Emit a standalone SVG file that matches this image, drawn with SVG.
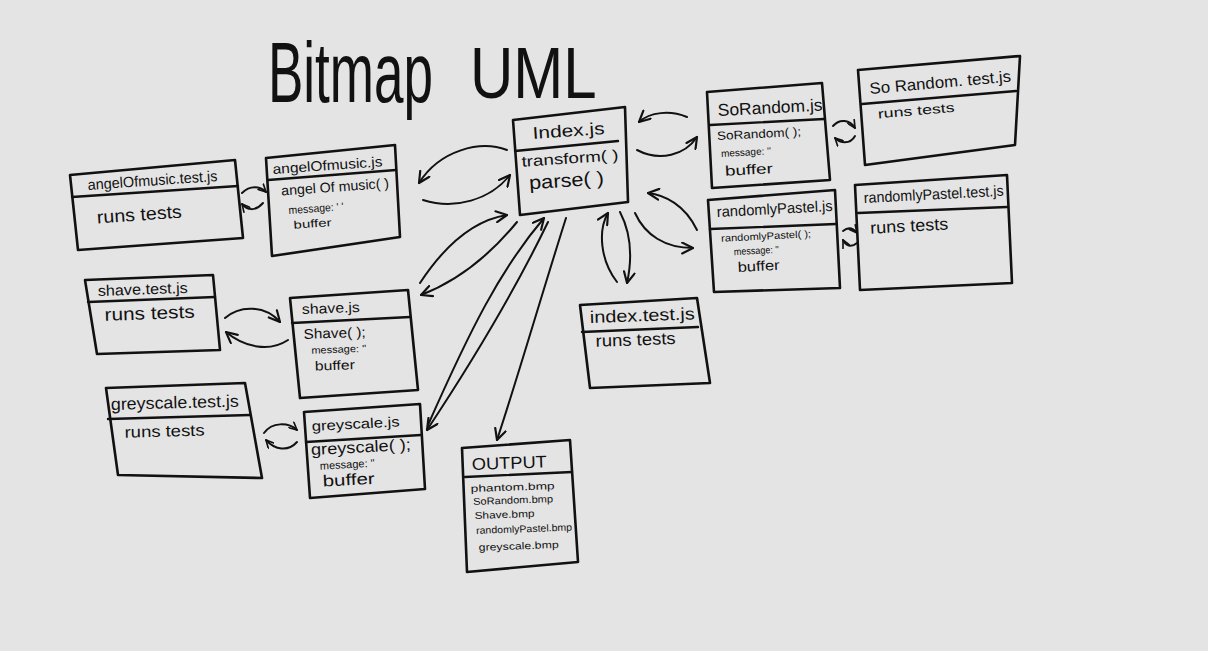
<svg xmlns="http://www.w3.org/2000/svg" width="1208" height="651" viewBox="0 0 1208 651">
<defs>
<marker id="ah" viewBox="0 0 12 12" refX="11" refY="6" markerWidth="13" markerHeight="13" markerUnits="userSpaceOnUse" orient="auto-start-reverse"><path d="M1,1 L11,6 L1,11" fill="none" stroke="#111" stroke-width="2" stroke-linecap="round" stroke-linejoin="round"/></marker>
<marker id="ahs" viewBox="0 0 12 12" refX="11" refY="6" markerWidth="9" markerHeight="9" markerUnits="userSpaceOnUse" orient="auto-start-reverse"><path d="M1,1 L11,6 L1,11" fill="none" stroke="#111" stroke-width="2.2" stroke-linecap="round" stroke-linejoin="round"/></marker>
<style>
.box{fill:none;stroke:#111;stroke-width:2.6;stroke-linejoin:round}
.div{fill:none;stroke:#111;stroke-width:2.4;stroke-linecap:round}
.t{font-family:"Liberation Sans",Arial,sans-serif;fill:#111}
.c{fill:none;stroke:#111;stroke-width:2;stroke-linecap:round;marker-end:url(#ah)}
.cs{fill:none;stroke:#111;stroke-width:2;stroke-linecap:round;marker-end:url(#ahs)}
</style>
</defs>
<rect width="1208" height="651" fill="#e4e4e4"/>

<g id="title">
<text class="t" font-size="53" transform="translate(268,102) scale(1,1.6)">Bitmap</text>
<text class="t" font-size="60" transform="translate(470,98) scale(1,1.2)">UML</text>
</g>

<g id="angelOfmusic-test">
<polygon class="box" points="70,175 235,160 243,238 78,250"/>
<path class="div" d="M72,197 L238,186"/>
<g transform="rotate(-4 88 190)">
<text class="t" x="88" y="190" font-size="15" textLength="130" lengthAdjust="spacingAndGlyphs">angelOfmusic.test.js</text>
<text class="t" x="95" y="224" font-size="18" textLength="85" lengthAdjust="spacingAndGlyphs">runs tests</text>
</g>
</g>

<g id="angelOfmusic">
<polygon class="box" points="266,158 395,145 400,237 272,256"/>
<path class="div" d="M268,180 L396,170"/>
<g transform="rotate(-4 273 174)">
<text class="t" x="273" y="174" font-size="14" textLength="110" lengthAdjust="spacingAndGlyphs">angelOfmusic.js</text>
<text class="t" x="280" y="196" font-size="14" textLength="108" lengthAdjust="spacingAndGlyphs">angel Of music( )</text>
<text class="t" x="286" y="215" font-size="11" textLength="55" lengthAdjust="spacingAndGlyphs">message: ' '</text>
<text class="t" x="290" y="230" font-size="11" textLength="38" lengthAdjust="spacingAndGlyphs">buffer</text>
</g>
</g>

<g id="index">
<polygon class="box" points="513,120 625,107 628,202 520,215"/>
<path class="div" d="M515,151 L618,141"/>
<g transform="rotate(-4 533 139)">
<text class="t" x="533" y="139" font-size="17" textLength="72" lengthAdjust="spacingAndGlyphs">Index.js</text>
<text class="t" x="520" y="166" font-size="15" textLength="97" lengthAdjust="spacingAndGlyphs">transform( )</text>
<text class="t" x="526" y="189" font-size="19" textLength="75" lengthAdjust="spacingAndGlyphs">parse( )</text>
</g>
</g>

<g id="soRandom">
<polygon class="box" points="707,92 822,83 830,180 712,188"/>
<path class="div" d="M710,125 L824,119"/>
<g transform="rotate(-3 718 116)">
<text class="t" x="718" y="116" font-size="17" textLength="105" lengthAdjust="spacingAndGlyphs">SoRandom.js</text>
<text class="t" x="716" y="140" font-size="12" textLength="84" lengthAdjust="spacingAndGlyphs">SoRandom( );</text>
<text class="t" x="719" y="157" font-size="10" textLength="50" lengthAdjust="spacingAndGlyphs">message: ''</text>
<text class="t" x="722" y="176" font-size="14" textLength="48" lengthAdjust="spacingAndGlyphs">buffer</text>
</g>
</g>

<g id="soRandom-test">
<polygon class="box" points="858,70 1020,56 1015,145 865,165"/>
<path class="div" d="M862,104 L1016,91"/>
<g transform="rotate(-5 870 94)">
<text class="t" x="870" y="94" font-size="16" textLength="142" lengthAdjust="spacingAndGlyphs">So Random. test.js</text>
<text class="t" x="876" y="119" font-size="13" textLength="77" lengthAdjust="spacingAndGlyphs">runs tests</text>
</g>
</g>

<g id="randomlyPastel">
<polygon class="box" points="708,200 835,190 840,288 714,292"/>
<path class="div" d="M710,229 L836,224"/>
<g transform="rotate(-3 717 217)">
<text class="t" x="717" y="217" font-size="15" textLength="116" lengthAdjust="spacingAndGlyphs">randomlyPastel.js</text>
<text class="t" x="720" y="242" font-size="10" textLength="90" lengthAdjust="spacingAndGlyphs">randomlyPastel( );</text>
<text class="t" x="732" y="256" font-size="10" textLength="45" lengthAdjust="spacingAndGlyphs">message: ''</text>
<text class="t" x="735" y="273" font-size="14" textLength="42" lengthAdjust="spacingAndGlyphs">buffer</text>
</g>
</g>

<g id="randomlyPastel-test">
<polygon class="box" points="855,185 1007,175 1012,283 860,290"/>
<path class="div" d="M858,213 L1007,207"/>
<g transform="rotate(-3 864 203)">
<text class="t" x="864" y="203" font-size="15" textLength="140" lengthAdjust="spacingAndGlyphs">randomlyPastel.test.js</text>
<text class="t" x="869" y="234" font-size="17" textLength="78" lengthAdjust="spacingAndGlyphs">runs tests</text>
</g>
</g>

<g id="shave-test">
<polygon class="box" points="85,280 213,275 220,350 97,354"/>
<path class="div" d="M88,302 L215,297"/>
<g transform="rotate(-2 98 296)">
<text class="t" x="98" y="296" font-size="15" textLength="90" lengthAdjust="spacingAndGlyphs">shave.test.js</text>
<text class="t" x="104" y="321" font-size="18" textLength="90" lengthAdjust="spacingAndGlyphs">runs tests</text>
</g>
</g>

<g id="shave">
<polygon class="box" points="290,298 408,290 418,390 300,398"/>
<path class="div" d="M292,323 L410,317"/>
<g transform="rotate(-2 302 314)">
<text class="t" x="302" y="314" font-size="14" textLength="58" lengthAdjust="spacingAndGlyphs">shave.js</text>
<text class="t" x="303" y="339" font-size="14" textLength="62" lengthAdjust="spacingAndGlyphs">Shave( );</text>
<text class="t" x="310" y="354" font-size="10" textLength="55" lengthAdjust="spacingAndGlyphs">message: ''</text>
<text class="t" x="313" y="371" font-size="13" textLength="40" lengthAdjust="spacingAndGlyphs">buffer</text>
</g>
</g>

<g id="greyscale-test">
<polygon class="box" points="106,388 245,383 262,478 118,475"/>
<path class="div" d="M108,419 L250,415"/>
<g transform="rotate(-1.5 111 410)">
<text class="t" x="111" y="410" font-size="17" textLength="128" lengthAdjust="spacingAndGlyphs">greyscale.test.js</text>
<text class="t" x="124" y="438" font-size="16" textLength="80" lengthAdjust="spacingAndGlyphs">runs tests</text>
</g>
</g>

<g id="greyscale">
<polygon class="box" points="304,412 420,404 425,489 310,498"/>
<path class="div" d="M306,442 L421,435"/>
<g transform="rotate(-3 312 431)">
<text class="t" x="312" y="431" font-size="14" textLength="88" lengthAdjust="spacingAndGlyphs">greyscale.js</text>
<text class="t" x="310" y="455" font-size="16" textLength="100" lengthAdjust="spacingAndGlyphs">greyscale( );</text>
<text class="t" x="318" y="470" font-size="11" textLength="55" lengthAdjust="spacingAndGlyphs">message: ''</text>
<text class="t" x="320" y="487" font-size="16" textLength="52" lengthAdjust="spacingAndGlyphs">buffer</text>
</g>
</g>

<g id="index-test">
<polygon class="box" points="580,305 697,298 710,383 590,388"/>
<path class="div" d="M582,332 L698,327"/>
<g transform="rotate(-2 590 323)">
<text class="t" x="590" y="323" font-size="17" textLength="105" lengthAdjust="spacingAndGlyphs">index.test.js</text>
<text class="t" x="595" y="347" font-size="17" textLength="80" lengthAdjust="spacingAndGlyphs">runs tests</text>
</g>
</g>

<g id="output">
<polygon class="box" points="462,448 570,440 578,562 467,572"/>
<path class="div" d="M465,477 L572,472"/>
<g transform="rotate(-2 472 470)">
<text class="t" x="472" y="470" font-size="17" textLength="75" lengthAdjust="spacingAndGlyphs">OUTPUT</text>
<text class="t" x="470" y="492" font-size="10" textLength="84" lengthAdjust="spacingAndGlyphs">phantom.bmp</text>
<text class="t" x="472" y="505" font-size="10" textLength="80" lengthAdjust="spacingAndGlyphs">SoRandom.bmp</text>
<text class="t" x="473" y="519" font-size="10" textLength="60" lengthAdjust="spacingAndGlyphs">Shave.bmp</text>
<text class="t" x="474" y="534" font-size="10" textLength="96" lengthAdjust="spacingAndGlyphs">randomlyPastel.bmp</text>
<text class="t" x="476" y="551" font-size="10" textLength="80" lengthAdjust="spacingAndGlyphs">greyscale.bmp</text>
</g>
</g>

<g id="connectors">
<path class="c" d="M507,150 C480,140 440,150 419,183"/>
<path class="c" d="M423,200 C455,210 490,200 510,175"/>
<path class="c" d="M420,283 C445,245 475,220 507,215"/>
<path class="c" d="M517,222 C490,255 460,280 421,295"/>
<path class="c" d="M428,425 C470,330 500,270 544,218"/>
<path class="c" d="M548,222 C520,280 480,350 427,430"/>
<path class="c" d="M566,218 C540,300 520,370 497,440"/>
<path class="c" d="M617,282 C600,260 598,230 608,213"/>
<path class="c" d="M620,212 C632,235 632,260 627,283"/>
<path class="c" d="M697,230 C685,205 665,195 648,193"/>
<path class="c" d="M635,213 C645,235 665,248 693,248"/>
<path class="c" d="M637,150 C660,162 685,155 697,137"/>
<path class="c" d="M687,117 C670,110 650,112 639,122"/>
<path class="cs" d="M833,126 C840,118 850,120 855,128"/>
<path class="cs" d="M855,136 C850,145 840,143 835,138"/>
<path class="cs" d="M843,231 C848,227 853,228 857,233"/>
<path class="cs" d="M857,243 C851,248 846,246 843,240"/>
<path class="cs" d="M242,193 C250,185 260,186 266,192"/>
<path class="cs" d="M263,203 C255,212 247,210 242,204"/>
<path class="c" d="M225,318 C240,305 265,305 280,322"/>
<path class="c" d="M288,340 C270,352 245,348 226,332"/>
<path class="cs" d="M264,433 C272,422 288,422 297,430"/>
<path class="cs" d="M297,442 C288,452 275,450 266,440"/>
</g>
</svg>
